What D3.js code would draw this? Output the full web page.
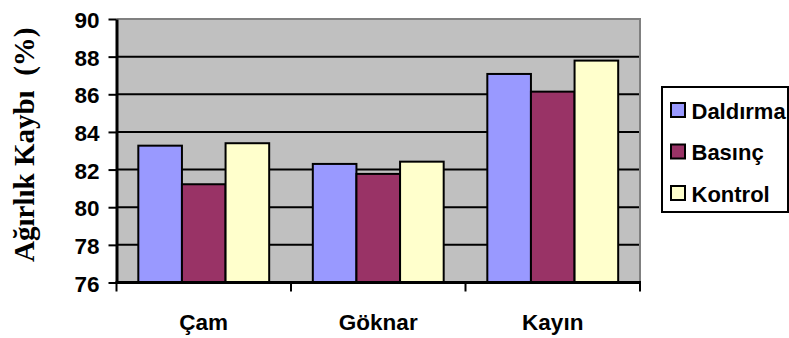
<!DOCTYPE html>
<html>
<head>
<meta charset="utf-8">
<script src="https://cdn.jsdelivr.net/npm/d3@7"></script>
<style>
  body { margin: 0; background: #fff; }
  svg { display: block; }
</style>
</head>
<body>
<svg id="main" width="789" height="338"></svg>
<script>
const categories = ["Çam", "Göknar", "Kayın"];
const seriesNames = ["Daldırma", "Basınç", "Kontrol"];
const seriesColors = ["#9999FF", "#993366", "#FFFFCC"];
const daldirma = [83.27, 82.3, 87.08];
const basinc = [81.22, 81.77, 86.14];
const kontrol = [83.4, 82.42, 87.79];
const yTicks = [76, 78, 80, 82, 84, 86, 88, 90];

const values = [daldirma, basinc, kontrol];

const svg = d3.select("#main");
const fontSans = "Liberation Sans, Arial, sans-serif";

// plot area
const pLeft = 116.5, pRight = 640, pTop = 19, pBottom = 282.5;

const x = d3.scaleBand()
    .domain(categories)
    .range([pLeft, pRight])
    .paddingInner(0.25)
    .paddingOuter(0.125);

const xs = d3.scaleBand()
    .domain(d3.range(seriesNames.length))
    .range([0, x.bandwidth()]);

const y = d3.scaleLinear()
    .domain([76, 90])
    .range([pBottom, pTop]);

// background
svg.append("rect")
    .attr("x", pLeft).attr("y", pTop)
    .attr("width", pRight - pLeft).attr("height", pBottom - pTop)
    .attr("fill", "#C0C0C0");

// gridlines
svg.selectAll(".grid")
    .data(yTicks.filter(d => d > 76 && d < 90))
    .enter()
    .append("line")
    .attr("x1", pLeft).attr("x2", pRight)
    .attr("y1", d => y(d)).attr("y2", d => y(d))
    .attr("stroke", "#000")
    .attr("stroke-width", 2);

// plot border top / right
svg.append("path")
    .attr("d", `M${pLeft},${pTop}H${pRight}V${pBottom}`)
    .attr("fill", "none")
    .attr("stroke", "#808080")
    .attr("stroke-width", 2);

// bars
const rows = [];
categories.forEach((c, i) => {
    values.forEach((s, j) => rows.push({ cat: c, s: j, v: s[i] }));
});

svg.selectAll(".bar")
    .data(rows)
    .enter()
    .append("rect")
    .classed("bar", true)
    .attr("x", d => x(d.cat) + xs(d.s))
    .attr("y", d => y(d.v))
    .attr("width", xs.bandwidth())
    .attr("height", d => y(76) - y(d.v))
    .attr("fill", d => seriesColors[d.s])
    .attr("stroke", "#000")
    .attr("stroke-width", 2);

// y axis
const yAxis = svg.append("g")
    .attr("transform", `translate(${pLeft},0)`)
    .call(d3.axisLeft(y).tickValues(yTicks).tickSize(8).tickPadding(9).tickSizeOuter(0));
yAxis.select(".domain").attr("stroke-width", 3);
yAxis.selectAll(".tick line").attr("stroke-width", 2);
yAxis.selectAll("text")
    .attr("font-family", fontSans)
    .attr("font-weight", "bold")
    .attr("font-size", 22.5)
    .attr("dy", "0.38em")
    .attr("fill", "#000");

// x axis with ticks at category boundaries
const xAxis = svg.append("g")
    .attr("transform", `translate(0,${pBottom})`);
xAxis.append("line")
    .attr("x1", pLeft - 1).attr("x2", pRight + 1)
    .attr("stroke", "#000").attr("stroke-width", 3);
xAxis.selectAll(".xt")
    .data(categories.concat(["end"]))
    .enter()
    .append("line")
    .attr("x1", (d, i) => i < categories.length ? x(d) - x.step() * x.paddingInner() / 2 : pRight)
    .attr("x2", (d, i) => i < categories.length ? x(d) - x.step() * x.paddingInner() / 2 : pRight)
    .attr("y1", 0).attr("y2", 9)
    .attr("stroke", "#000").attr("stroke-width", 2);
xAxis.selectAll(".xl")
    .data(categories)
    .enter()
    .append("text")
    .attr("x", d => x(d) + x.bandwidth() / 2)
    .attr("y", 47.5)
    .attr("text-anchor", "middle")
    .attr("font-family", fontSans)
    .attr("font-weight", "bold")
    .attr("font-size", 22.5)
    .text(d => d);

// y title
svg.append("text")
    .attr("transform", `translate(34,${(pTop + pBottom) / 2 - 6}) rotate(-90)`)
    .attr("text-anchor", "middle")
    .attr("font-family", "Liberation Serif, Times New Roman, serif")
    .attr("font-weight", "bold")
    .attr("font-size", 29)
    .style("white-space", "pre")
    .text("Ağırlık Kaybı  (%)");

// legend
const lg = svg.append("g");
lg.append("rect")
    .attr("x", 662).attr("y", 87)
    .attr("width", 126).attr("height", 125)
    .attr("fill", "#fff")
    .attr("stroke", "#000")
    .attr("stroke-width", 2);
const item = lg.selectAll(".item")
    .data(seriesNames)
    .enter()
    .append("g")
    .attr("transform", (d, i) => `translate(671,${110 + i * 41.5})`);
item.append("rect")
    .attr("x", 0).attr("y", -7)
    .attr("width", 14).attr("height", 14)
    .attr("fill", (d, i) => seriesColors[i])
    .attr("stroke", "#000")
    .attr("stroke-width", 2);
item.append("text")
    .attr("x", 20.5).attr("y", 8.5)
    .attr("font-family", fontSans)
    .attr("font-weight", "bold")
    .attr("font-size", 22)
    .text(d => d);
</script>
</body>
</html>
